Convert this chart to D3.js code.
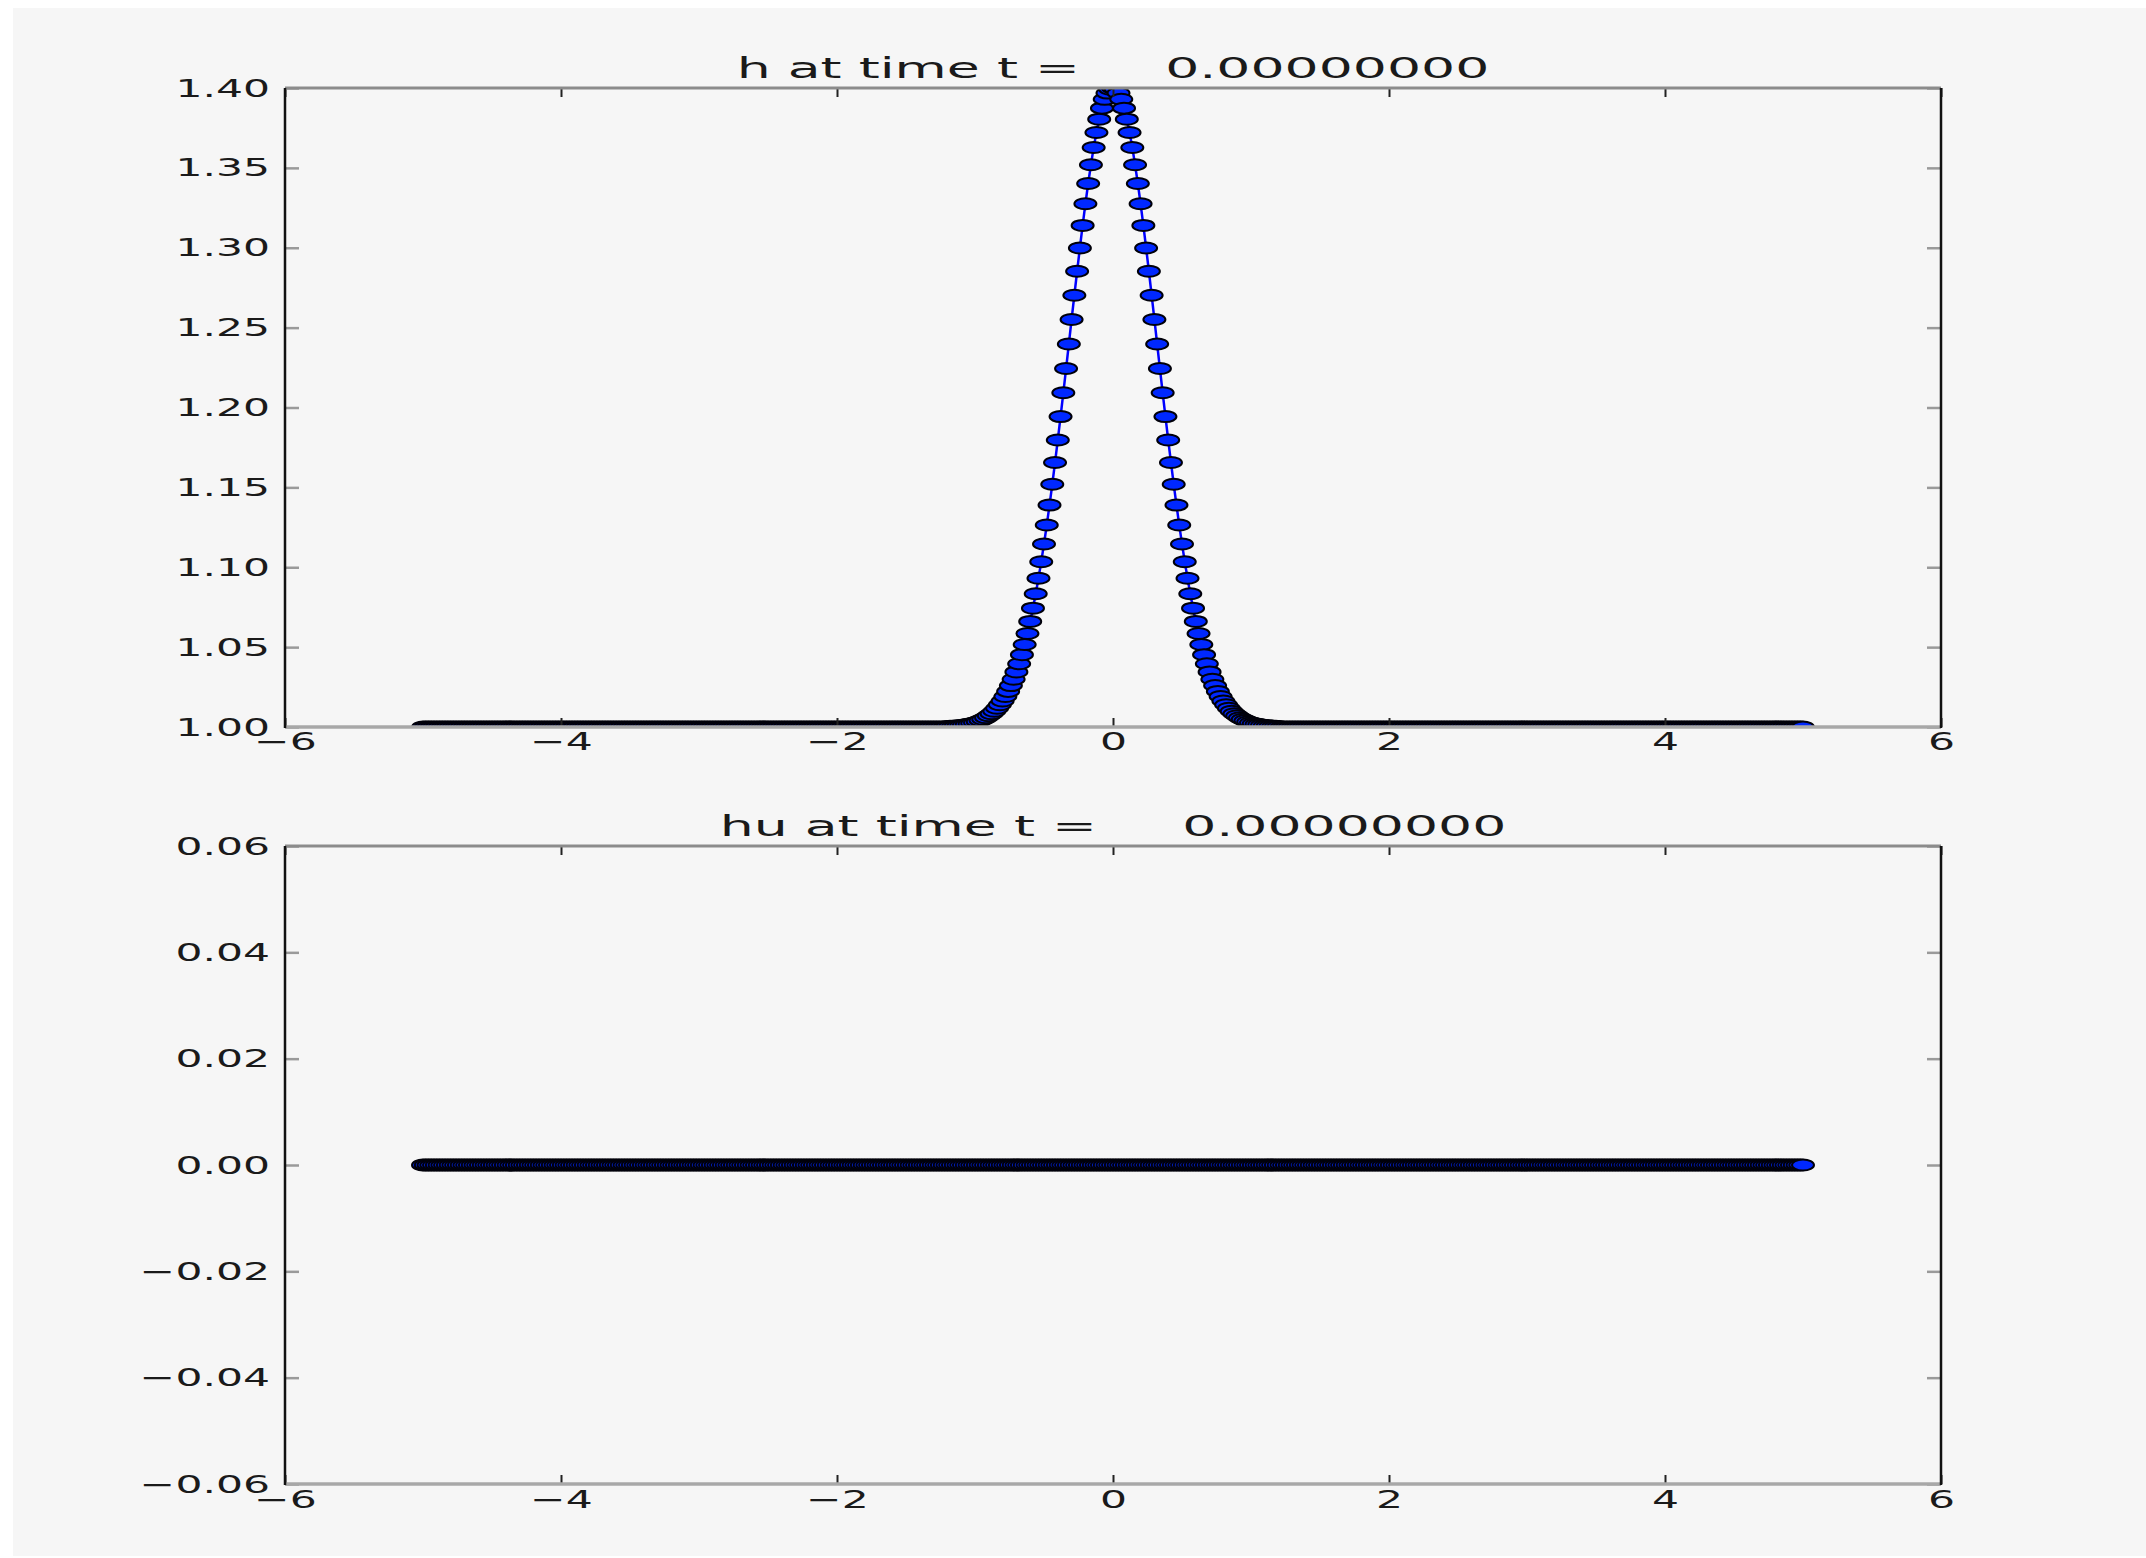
<!DOCTYPE html>
<html>
<head>
<meta charset="utf-8">
<script src="https://cdn.jsdelivr.net/npm/d3@7/dist/d3.min.js"></script>
<style>
  html, body { margin: 0; padding: 0; background: #ffffff; }
  svg { display: block; }
  text { font-family: "DejaVu Sans", sans-serif; fill: #1a1a1a; }
</style>
</head>
<body>
<script>
// Grid points x (step 0.02 from -5 to 5)
const xValues = [
  -5,-4.98,-4.96,-4.94,-4.92,-4.9,-4.88,-4.86,-4.84,-4.82,-4.8,-4.78,-4.76,-4.74,-4.72,-4.7,-4.68,-4.66,-4.64,-4.62,-4.6,-4.58,-4.56,-4.54,-4.52,-4.5,-4.48,-4.46,-4.44,-4.42,-4.4,-4.38,-4.36,-4.34,-4.32,-4.3,-4.28,-4.26,-4.24,-4.22,-4.2,-4.18,-4.16,-4.14,-4.12,-4.1,-4.08,-4.06,-4.04,-4.02,
  -4,-3.98,-3.96,-3.94,-3.92,-3.9,-3.88,-3.86,-3.84,-3.82,-3.8,-3.78,-3.76,-3.74,-3.72,-3.7,-3.68,-3.66,-3.64,-3.62,-3.6,-3.58,-3.56,-3.54,-3.52,-3.5,-3.48,-3.46,-3.44,-3.42,-3.4,-3.38,-3.36,-3.34,-3.32,-3.3,-3.28,-3.26,-3.24,-3.22,-3.2,-3.18,-3.16,-3.14,-3.12,-3.1,-3.08,-3.06,-3.04,-3.02,
  -3,-2.98,-2.96,-2.94,-2.92,-2.9,-2.88,-2.86,-2.84,-2.82,-2.8,-2.78,-2.76,-2.74,-2.72,-2.7,-2.68,-2.66,-2.64,-2.62,-2.6,-2.58,-2.56,-2.54,-2.52,-2.5,-2.48,-2.46,-2.44,-2.42,-2.4,-2.38,-2.36,-2.34,-2.32,-2.3,-2.28,-2.26,-2.24,-2.22,-2.2,-2.18,-2.16,-2.14,-2.12,-2.1,-2.08,-2.06,-2.04,-2.02,
  -2,-1.98,-1.96,-1.94,-1.92,-1.9,-1.88,-1.86,-1.84,-1.82,-1.8,-1.78,-1.76,-1.74,-1.72,-1.7,-1.68,-1.66,-1.64,-1.62,-1.6,-1.58,-1.56,-1.54,-1.52,-1.5,-1.48,-1.46,-1.44,-1.42,-1.4,-1.38,-1.36,-1.34,-1.32,-1.3,-1.28,-1.26,-1.24,-1.22,-1.2,-1.18,-1.16,-1.14,-1.12,-1.1,-1.08,-1.06,-1.04,-1.02,
  -1,-0.98,-0.96,-0.94,-0.92,-0.9,-0.88,-0.86,-0.84,-0.82,-0.8,-0.78,-0.76,-0.74,-0.72,-0.7,-0.68,-0.66,-0.64,-0.62,-0.6,-0.58,-0.56,-0.54,-0.52,-0.5,-0.48,-0.46,-0.44,-0.42,-0.4,-0.38,-0.36,-0.34,-0.32,-0.3,-0.28,-0.26,-0.24,-0.22,-0.2,-0.18,-0.16,-0.14,-0.12,-0.1,-0.08,-0.06,-0.04,-0.02,
  0,0.02,0.04,0.06,0.08,0.1,0.12,0.14,0.16,0.18,0.2,0.22,0.24,0.26,0.28,0.3,0.32,0.34,0.36,0.38,0.4,0.42,0.44,0.46,0.48,0.5,0.52,0.54,0.56,0.58,0.6,0.62,0.64,0.66,0.68,0.7,0.72,0.74,0.76,0.78,0.8,0.82,0.84,0.86,0.88,0.9,0.92,0.94,0.96,0.98,
  1,1.02,1.04,1.06,1.08,1.1,1.12,1.14,1.16,1.18,1.2,1.22,1.24,1.26,1.28,1.3,1.32,1.34,1.36,1.38,1.4,1.42,1.44,1.46,1.48,1.5,1.52,1.54,1.56,1.58,1.6,1.62,1.64,1.66,1.68,1.7,1.72,1.74,1.76,1.78,1.8,1.82,1.84,1.86,1.88,1.9,1.92,1.94,1.96,1.98,
  2,2.02,2.04,2.06,2.08,2.1,2.12,2.14,2.16,2.18,2.2,2.22,2.24,2.26,2.28,2.3,2.32,2.34,2.36,2.38,2.4,2.42,2.44,2.46,2.48,2.5,2.52,2.54,2.56,2.58,2.6,2.62,2.64,2.66,2.68,2.7,2.72,2.74,2.76,2.78,2.8,2.82,2.84,2.86,2.88,2.9,2.92,2.94,2.96,2.98,
  3,3.02,3.04,3.06,3.08,3.1,3.12,3.14,3.16,3.18,3.2,3.22,3.24,3.26,3.28,3.3,3.32,3.34,3.36,3.38,3.4,3.42,3.44,3.46,3.48,3.5,3.52,3.54,3.56,3.58,3.6,3.62,3.64,3.66,3.68,3.7,3.72,3.74,3.76,3.78,3.8,3.82,3.84,3.86,3.88,3.9,3.92,3.94,3.96,3.98,
  4,4.02,4.04,4.06,4.08,4.1,4.12,4.14,4.16,4.18,4.2,4.22,4.24,4.26,4.28,4.3,4.32,4.34,4.36,4.38,4.4,4.42,4.44,4.46,4.48,4.5,4.52,4.54,4.56,4.58,4.6,4.62,4.64,4.66,4.68,4.7,4.72,4.74,4.76,4.78,4.8,4.82,4.84,4.86,4.88,4.9,4.92,4.94,4.96,4.98,
  5
];

// Water depth h at t = 0
const hValues = [
  1,1,1,1,1,1,1,1,1,1,1,1,1,1,1,1,1,1,1,1,1,1,1,1,1,1,1,1,1,1,1,1,1,1,1,1,1,1,1,1,1,1,1,1,1,1,1,1,1,1,
  1,1,1,1,1,1,1,1,1,1,1,1,1,1,1,1,1,1,1,1,1,1,1,1,1,1,1,1,1,1,1,1,1,1,1,1,1,1,1,1,1,1,1,1,1,1,1,1,1,1,
  1,1,1,1,1,1,1,1,1,1,1,1,1,1,1,1,1,1,1,1,1,1,1,1,1,1,1,1,1,1,1,1,1,1,1,1,1,1,1,1,1,1,1,1,1,1,1,1,1,1,
  1,1,1,1,1,1,1,1,1,1,1,1,1,1,1,1,1,1,1,1,1,1,1,1,1,1,1,1,1,1,1,1,1,1,1,1,1,1,1,1,
  1.0003,1.0004,1.0005,1.0006,1.0008,1.0009,1.0012,1.0015,1.0018,1.0022,
  1.0027,1.0033,1.004,1.0048,1.0058,1.007,1.0083,1.0099,1.0117,1.0139,
  1.0163,1.0191,1.0223,1.0259,1.0299,1.0345,1.0396,1.0453,1.0516,1.0585,
  1.0661,1.0744,1.0834,1.0931,1.1035,1.1146,1.1264,1.1389,1.1519,1.1656,
  1.1797,1.1943,1.2092,1.2244,1.2397,1.2551,1.2703,1.2853,1.2999,1.314,
  1.3275,1.3402,1.3519,1.3627,1.3722,1.3805,1.3874,1.3929,1.3968,1.3992,
  1.4,1.3992,1.3968,1.3929,1.3874,1.3805,1.3722,1.3627,1.3519,1.3402,
  1.3275,1.314,1.2999,1.2853,1.2703,1.2551,1.2397,1.2244,1.2092,1.1943,
  1.1797,1.1656,1.1519,1.1389,1.1264,1.1146,1.1035,1.0931,1.0834,1.0744,
  1.0661,1.0585,1.0516,1.0453,1.0396,1.0345,1.0299,1.0259,1.0223,1.0191,
  1.0163,1.0139,1.0117,1.0099,1.0083,1.007,1.0058,1.0048,1.004,1.0033,
  1.0027,1.0022,1.0018,1.0015,1.0012,1.0009,1.0008,1.0006,1.0005,1.0004,1.0003,
  1,1,1,1,1,1,1,1,1,1,1,1,1,1,1,1,1,1,1,1,1,1,1,1,1,1,1,1,1,1,1,1,1,1,1,1,1,1,1,
  1,1,1,1,1,1,1,1,1,1,1,1,1,1,1,1,1,1,1,1,1,1,1,1,1,1,1,1,1,1,1,1,1,1,1,1,1,1,1,1,1,1,1,1,1,1,1,1,1,1,
  1,1,1,1,1,1,1,1,1,1,1,1,1,1,1,1,1,1,1,1,1,1,1,1,1,1,1,1,1,1,1,1,1,1,1,1,1,1,1,1,1,1,1,1,1,1,1,1,1,1,
  1,1,1,1,1,1,1,1,1,1,1,1,1,1,1,1,1,1,1,1,1,1,1,1,1,1,1,1,1,1,1,1,1,1,1,1,1,1,1,1,1,1,1,1,1,1,1,1,1,1,
  1
];

// Momentum hu at t = 0
const huValues = [
  0,0,0,0,0,0,0,0,0,0,0,0,0,0,0,0,0,0,0,0,0,0,0,0,0,0,0,0,0,0,0,0,0,0,0,0,0,0,0,0,0,0,0,0,0,0,0,0,0,0,
  0,0,0,0,0,0,0,0,0,0,0,0,0,0,0,0,0,0,0,0,0,0,0,0,0,0,0,0,0,0,0,0,0,0,0,0,0,0,0,0,0,0,0,0,0,0,0,0,0,0,
  0,0,0,0,0,0,0,0,0,0,0,0,0,0,0,0,0,0,0,0,0,0,0,0,0,0,0,0,0,0,0,0,0,0,0,0,0,0,0,0,0,0,0,0,0,0,0,0,0,0,
  0,0,0,0,0,0,0,0,0,0,0,0,0,0,0,0,0,0,0,0,0,0,0,0,0,0,0,0,0,0,0,0,0,0,0,0,0,0,0,0,0,0,0,0,0,0,0,0,0,0,
  0,0,0,0,0,0,0,0,0,0,0,0,0,0,0,0,0,0,0,0,0,0,0,0,0,0,0,0,0,0,0,0,0,0,0,0,0,0,0,0,0,0,0,0,0,0,0,0,0,0,
  0,0,0,0,0,0,0,0,0,0,0,0,0,0,0,0,0,0,0,0,0,0,0,0,0,0,0,0,0,0,0,0,0,0,0,0,0,0,0,0,0,0,0,0,0,0,0,0,0,0,
  0,0,0,0,0,0,0,0,0,0,0,0,0,0,0,0,0,0,0,0,0,0,0,0,0,0,0,0,0,0,0,0,0,0,0,0,0,0,0,0,0,0,0,0,0,0,0,0,0,0,
  0,0,0,0,0,0,0,0,0,0,0,0,0,0,0,0,0,0,0,0,0,0,0,0,0,0,0,0,0,0,0,0,0,0,0,0,0,0,0,0,0,0,0,0,0,0,0,0,0,0,
  0,0,0,0,0,0,0,0,0,0,0,0,0,0,0,0,0,0,0,0,0,0,0,0,0,0,0,0,0,0,0,0,0,0,0,0,0,0,0,0,0,0,0,0,0,0,0,0,0,0,
  0,0,0,0,0,0,0,0,0,0,0,0,0,0,0,0,0,0,0,0,0,0,0,0,0,0,0,0,0,0,0,0,0,0,0,0,0,0,0,0,0,0,0,0,0,0,0,0,0,0,
  0
];

// Tick values and labels
const xTicks = [-6, -4, -2, 0, 2, 4, 6];
const xTickLabels = ["\u22126", "\u22124", "\u22122", "0", "2", "4", "6"];
const hTicks = [1.00, 1.05, 1.10, 1.15, 1.20, 1.25, 1.30, 1.35, 1.40];
const hTickLabels = ["1.00", "1.05", "1.10", "1.15", "1.20", "1.25", "1.30", "1.35", "1.40"];
const huTicks = [-0.06, -0.04, -0.02, 0.00, 0.02, 0.04, 0.06];
const huTickLabels = ["\u22120.06", "\u22120.04", "\u22120.02", "0.00", "0.02", "0.04", "0.06"];

const titles = ["h at time t =    \u00a00.00000000", "hu at time t =    \u00a00.00000000"];

const W = 2146, H = 1558;
const svg = d3.select("body").append("svg").attr("width", W).attr("height", H);

// figure background
svg.append("rect").attr("x", 13).attr("y", 8).attr("width", W - 13).attr("height", H - 10)
  .attr("fill", "#f6f6f6");

const left = 285, right = 1941;
const tickSX = 1.7, titleSX = 1.85;

// widen glyphs horizontally around each text's anchor point
function stretch(sel, sx) {
  sel.each(function () {
    const t = d3.select(this);
    const x = +t.attr("x") || 0;
    const y = +t.attr("y") || 0;
    t.attr("transform", `translate(${x},${y}) scale(${sx},1) translate(${-x},${-y})`);
  });
}

function panel(cfg, idx) {
  const { top, bottom, yDomain, yTicks, yLabels, values } = cfg;
  const x = d3.scaleLinear().domain([-6, 6]).range([left, right]);
  const y = d3.scaleLinear().domain(yDomain).range([bottom, top]);
  const g = svg.append("g");

  const clipId = "clip" + idx;
  svg.append("clipPath").attr("id", clipId)
    .append("rect").attr("x", left).attr("y", top)
    .attr("width", right - left).attr("height", bottom - top);

  const pts = xValues.map((xv, i) => [xv, values[i]]);
  const plot = g.append("g").attr("clip-path", `url(#${clipId})`);

  plot.append("path")
    .attr("d", d3.line().x(d => x(d[0])).y(d => y(d[1]))(pts))
    .attr("fill", "none").attr("stroke", "#0000ff").attr("stroke-width", 2.5);

  plot.selectAll("ellipse").data(pts).enter().append("ellipse")
    .attr("cx", d => x(d[0])).attr("cy", d => y(d[1]))
    .attr("rx", 11).attr("ry", 5.5)
    .attr("fill", "#0028ff").attr("stroke", "#00000a").attr("stroke-width", 2);

  // ticks pointing inward on all four sides
  const yTickStyle = a => a.selectAll(".tick line").attr("stroke", "#9a9a9a").attr("stroke-width", 2.5);
  const xTickStyle = a => a.selectAll(".tick line").attr("stroke", "#222").attr("stroke-width", 2);

  const ax = g.append("g").attr("transform", `translate(0,${bottom})`)
    .call(d3.axisBottom(x).tickValues(xTicks).tickFormat((d, i) => xTickLabels[i])
      .tickSizeInner(-9).tickSizeOuter(0).tickPadding(idx === 0 ? 5 : 6));
  ax.select(".domain").remove();
  xTickStyle(ax);
  ax.selectAll("text").attr("font-size", 25).attr("font-family", "DejaVu Sans").attr("fill", "#1a1a1a");
  stretch(ax.selectAll("text"), tickSX);

  const axT = g.append("g").attr("transform", `translate(0,${top})`)
    .call(d3.axisTop(x).tickValues(xTicks).tickFormat("").tickSizeInner(-9).tickSizeOuter(0));
  axT.select(".domain").remove();
  xTickStyle(axT);

  const ay = g.append("g").attr("transform", `translate(${left},0)`)
    .call(d3.axisLeft(y).tickValues(yTicks).tickFormat((d, i) => yLabels[i])
      .tickSizeInner(-14).tickSizeOuter(0).tickPadding(15));
  ay.select(".domain").remove();
  yTickStyle(ay);
  ay.selectAll("text").attr("font-size", 25).attr("font-family", "DejaVu Sans").attr("fill", "#1a1a1a");
  stretch(ay.selectAll("text"), tickSX);

  const ayR = g.append("g").attr("transform", `translate(${right},0)`)
    .call(d3.axisRight(y).tickValues(yTicks).tickFormat("").tickSizeInner(-14).tickSizeOuter(0));
  ayR.select(".domain").remove();
  yTickStyle(ayR);

  // frame
  g.append("line").attr("x1", left).attr("x2", right).attr("y1", top).attr("y2", top)
    .attr("stroke", "#8c8c8c").attr("stroke-width", 3);
  g.append("line").attr("x1", left).attr("x2", right).attr("y1", bottom).attr("y2", bottom)
    .attr("stroke", "#a8a8a8").attr("stroke-width", 3.5);
  g.append("line").attr("x1", left).attr("x2", left).attr("y1", top).attr("y2", bottom + 1)
    .attr("stroke", "#111").attr("stroke-width", 2.5);
  g.append("line").attr("x1", right).attr("x2", right).attr("y1", top).attr("y2", bottom + 1)
    .attr("stroke", "#111").attr("stroke-width", 2.5);

  const title = g.append("text")
    .attr("x", (left + right) / 2).attr("y", top - 10)
    .attr("text-anchor", "middle").attr("font-size", 29)
    .style("white-space", "pre")
    .text(titles[idx]);
  stretch(title, titleSX);
}

panel({ top: 88, bottom: 727, yDomain: [1.0, 1.4], yTicks: hTicks, yLabels: hTickLabels, values: hValues }, 0);
panel({ top: 846, bottom: 1484, yDomain: [-0.06, 0.06], yTicks: huTicks, yLabels: huTickLabels, values: huValues }, 1);
</script>
</body>
</html>
